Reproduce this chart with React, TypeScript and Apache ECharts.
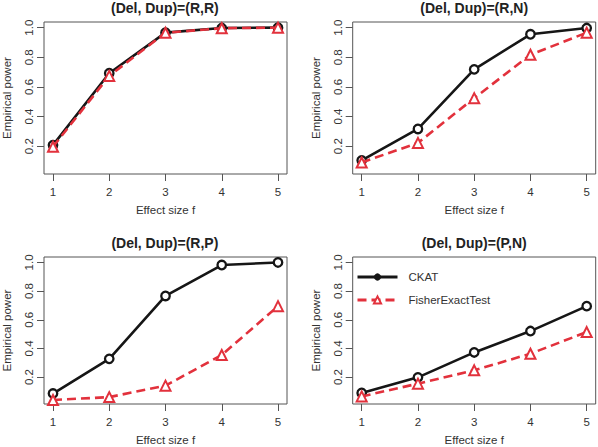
import React, { useEffect, useRef } from "react";
import * as echarts from "echarts";

const effectSize = [1, 2, 3, 4, 5];
const panelTitles = ["(Del, Dup)=(R,R)", "(Del, Dup)=(R,N)", "(Del, Dup)=(R,P)", "(Del, Dup)=(P,N)"];
const ckatRR = [0.207, 0.692, 0.966, 0.997, 1.0];
const fisherRR = [0.196, 0.674, 0.965, 0.996, 1.0];
const ckatRN = [0.104, 0.316, 0.718, 0.955, 0.997];
const fisherRN = [0.09, 0.222, 0.524, 0.817, 0.966];
const ckatRP = [0.085, 0.327, 0.766, 0.982, 1.0];
const fisherRP = [0.04, 0.06, 0.14, 0.354, 0.695];
const ckatPN = [0.089, 0.198, 0.372, 0.521, 0.695];
const fisherPN = [0.065, 0.154, 0.247, 0.363, 0.514];
const yTicks = [0.2, 0.4, 0.6, 0.8, 1.0];
const seriesNames = ["CKAT", "FisherExactTest"];
const xAxisTitle = "Effect size f";
const yAxisTitle = "Empirical power";

const ckatAll = [ckatRR, ckatRN, ckatRP, ckatPN];
const fisherAll = [fisherRR, fisherRN, fisherRP, fisherPN];

const FONT = "'Liberation Sans', Arial, Helvetica, sans-serif";
const TEXT = "#333";
const AXIS = "#555";
const BLACK = "#161616";
const RED = "#e2313c";

const grids = [
  { left: 42.7, top: 22, width: 244.3, height: 152 },
  { left: 352.7, top: 22, width: 243, height: 152 },
  { left: 42.7, top: 257, width: 244.3, height: 152 },
  { left: 352.7, top: 257, width: 243, height: 152 },
];

export default function App() {
  const ref = useRef<HTMLDivElement>(null);
  useEffect(() => {
    if (!ref.current) return;
    const chart = echarts.init(ref.current, null, { renderer: "svg" });
    const xAxes = grids.map((_, i) => ({
      type: "value",
      gridIndex: i,
      min: 0.84,
      max: 5.16,
      name: xAxisTitle,
      nameLocation: "middle",
      nameGap: 30,
      nameTextStyle: { fontFamily: FONT, fontSize: 11.5, color: TEXT },
      axisLine: { show: false },
      splitLine: { show: false },
      axisTick: { show: true, length: 7, customValues: effectSize, lineStyle: { color: AXIS, width: 1 } },
      axisLabel: {
        customValues: effectSize,
        margin: 12,
        fontFamily: FONT,
        fontSize: 11.5,
        color: TEXT,
        formatter: (v: number) => String(v),
      },
    }));
    const yAxes = grids.map((_, i) => ({
      type: "value",
      gridIndex: i,
      min: 0.012,
      max: 1.038,
      name: yAxisTitle,
      nameLocation: "middle",
      nameGap: 31,
      nameTextStyle: { fontFamily: FONT, fontSize: 11.5, color: TEXT },
      axisLine: { show: false },
      splitLine: { show: false },
      axisTick: { show: true, length: 7, customValues: yTicks, lineStyle: { color: AXIS, width: 1 } },
      axisLabel: {
        customValues: yTicks,
        rotate: 90,
        margin: 9,
        fontFamily: FONT,
        fontSize: 11.5,
        color: TEXT,
        formatter: (v: number) => v.toFixed(1),
      },
    }));
    const series: any[] = [];
    grids.forEach((_, i) => {
      series.push({
        name: seriesNames[0],
        type: "line",
        xAxisIndex: i,
        yAxisIndex: i,
        data: effectSize.map((x, k) => [x, ckatAll[i][k]]),
        symbol: "circle",
        symbolSize: 8.5,
        lineStyle: { color: BLACK, width: 2.6 },
        itemStyle: { color: "#fff", borderColor: BLACK, borderWidth: 2.3 },
        z: 2,
      });
      series.push({
        name: seriesNames[1],
        type: "line",
        xAxisIndex: i,
        yAxisIndex: i,
        data: effectSize.map((x, k) => [x, fisherAll[i][k]]),
        symbol: "emptyTriangle",
        symbolSize: 10,
        lineStyle: { color: RED, width: 2.6, type: [9, 5] },
        itemStyle: { color: RED, borderColor: RED, borderWidth: 2.2 },
        z: 3,
      });
    });
    const titleCenters = grids.map((g) => [g.left + g.width / 2, g.top - 14.5]);
    chart.setOption({
      animation: false,
      backgroundColor: "#fff",
      grid: grids.map((g) => ({ ...g, show: true, borderColor: AXIS, borderWidth: 1, backgroundColor: "transparent" })),
      xAxis: xAxes,
      yAxis: yAxes,
      series,
      legend: {
        show: true,
        data: [
          { name: seriesNames[0], itemStyle: { color: BLACK, borderColor: BLACK, borderWidth: 0 }, lineStyle: { width: 3 } },
          { name: seriesNames[1], lineStyle: { width: 3 } },
        ],
        orient: "vertical",
        left: 356,
        top: 271,
        padding: 0,
        itemWidth: 40,
        itemHeight: 9,
        itemGap: 11,
        selectedMode: false,
        textStyle: { fontFamily: FONT, fontSize: 11.5, color: TEXT, padding: [0, 0, 0, 6] },
      },
      graphic: titleCenters.map((c, i) => ({
        type: "text",
        x: c[0],
        y: c[1],
        style: {
          text: panelTitles[i],
          align: "center",
          verticalAlign: "middle",
          fontFamily: FONT,
          fontSize: 14,
          fontWeight: "bold",
          fill: "#222",
        },
      })),
    });
    return () => chart.dispose();
  }, []);
  return <div ref={ref} style={{ position: "absolute", left: 0, top: 0, width: 598, height: 447 }} />;
}
